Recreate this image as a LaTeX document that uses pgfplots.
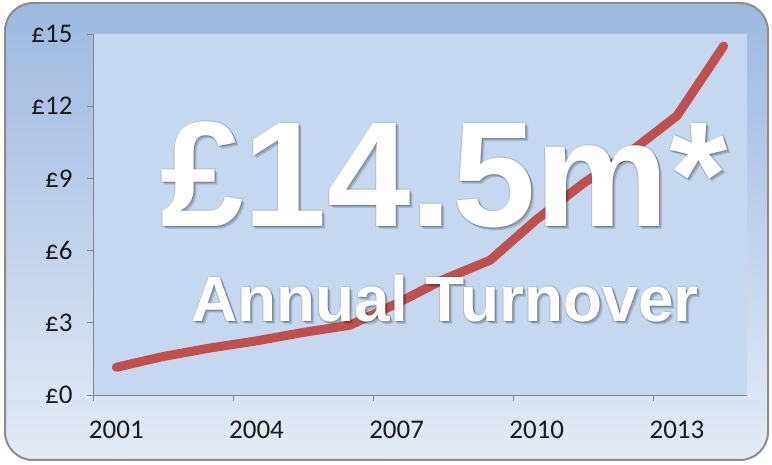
\documentclass[border=0pt]{standalone}
\usepackage{fontspec}
\setmainfont{Carlito}
\newfontfamily\bigfont{Liberation Sans}
\usepackage{pgfplots}
\pgfplotsset{compat=1.18}
\definecolor{outerTop}{HTML}{9EB8E0}
\definecolor{outerBot}{HTML}{E4EBF5}
\definecolor{plotbg}{HTML}{C6D8EF}
\definecolor{lineRed}{HTML}{C0504D}
\definecolor{axisGray}{HTML}{868686}
\definecolor{labelc}{HTML}{1A1A1A}

\pgfplotstableread{
x y
0.5 1.15
1.5 1.6
2.5 1.95
3.5 2.25
4.5 2.6
5.5 2.9
6.5 3.8
7.5 4.8
8.5 5.6
9.5 7.3
10.5 8.8
11.5 10.1
12.5 11.6
13.5 14.5
}\turnover

\begin{document}
\begin{tikzpicture}[x=1pt,y=1pt]
\useasboundingbox (0,0) rectangle (772,464);
\shade[top color=outerTop, bottom color=outerBot, rounded corners=28pt] (5,4) rectangle (768,461);
\draw[color=black!45, line width=2pt, rounded corners=28pt] (5,4) rectangle (768,461);
\begin{axis}[
  at={(93pt,69pt)}, anchor=south west,
  scale only axis, width=654pt, height=361pt,
  xmin=0, xmax=14, ymin=0, ymax=15,
  axis lines*=left,
  axis line style={axisGray, line width=0.8pt},
  axis background/.style={fill=plotbg},
  tick align=outside, major tick length=6pt,
  tick style={axisGray, line width=0.8pt},
  ytick={0,3,6,9,12,15},
  yticklabels={£0,£3,£6,£9,£12,£15},
  xtick={0,3,6,9,12},
  xticklabels={2001,2004,2007,2010,2013},
  xticklabel style={xshift=23.36pt, yshift=-16pt, font=\fontsize{27}{27}\selectfont, text=labelc},
  yticklabel style={xshift=-11pt, font=\fontsize{27}{27}\selectfont, text=labelc},
  clip=false,
]
\addplot[lineRed, line width=9pt, line join=round, line cap=round] table[x=x, y=y] {\turnover};
\end{axis}
\foreach \dx/\dy in {1/-1,2/-2,3/-3,-1/-1,1/1}{
  \node[anchor=base, text=black, opacity=0.12, inner sep=0pt] at (444+\dx,237+\dy) {\bigfont\bfseries\fontsize{150}{150}\selectfont £14.5m*};
  \node[anchor=base, text=black, opacity=0.12, inner sep=0pt] at (445+\dx,142+\dy) {\bigfont\bfseries\fontsize{64}{64}\selectfont Annual Turnover};
}
\node[anchor=base, text=white, inner sep=0pt] at (444,237) {\bigfont\bfseries\fontsize{150}{150}\selectfont £14.5m*};
\node[anchor=base, text=white, inner sep=0pt] at (445,142) {\bigfont\bfseries\fontsize{64}{64}\selectfont Annual Turnover};
\end{tikzpicture}
\end{document}
